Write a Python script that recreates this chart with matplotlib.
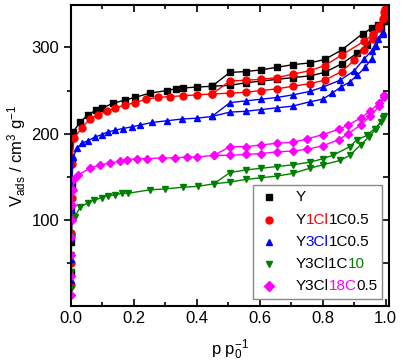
import matplotlib
matplotlib.use("Agg")
import matplotlib.pyplot as plt
from matplotlib.ticker import FixedLocator, MultipleLocator
from matplotlib.offsetbox import AnchoredOffsetbox, TextArea, HPacker, VPacker, DrawingArea
from matplotlib.lines import Line2D

plt.rcParams['font.family'] = ['Liberation Sans', 'DejaVu Sans']
plt.rcParams['mathtext.fontset'] = 'custom'
plt.rcParams['mathtext.rm'] = 'Liberation Sans'
plt.rcParams['mathtext.it'] = 'Liberation Sans:italic'

# Y
y_ads_p = [0.0006, 0.001, 0.0015, 0.002, 0.003, 0.006, 0.029, 0.054, 0.079, 0.10, 0.133, 0.171,
           0.203, 0.25, 0.305, 0.333, 0.356, 0.40, 0.448, 0.505, 0.555, 0.605, 0.655, 0.705,
           0.759, 0.806, 0.86, 0.908, 0.94, 0.96, 0.985, 0.998]
y_ads_v = [40, 75, 110, 140, 170, 202, 213, 222, 227, 230, 235, 239,
           242, 247, 250, 252, 253, 254, 255, 256, 259, 261, 263, 265,
           267, 271, 281, 293, 303, 312, 322, 330]
y_des_p = [0.998, 0.99, 0.975, 0.955, 0.927, 0.86, 0.806, 0.759, 0.705, 0.655, 0.605, 0.555, 0.505, 0.448]
y_des_v = [333, 330, 326, 322, 316, 297, 286, 282, 280, 277, 274, 272, 271, 255]

# Y1Cl1C0.5
r_ads_p = [0.0006, 0.001, 0.0015, 0.002, 0.003, 0.01, 0.035, 0.06, 0.086, 0.114, 0.14, 0.171,
           0.203, 0.24, 0.276, 0.314, 0.356, 0.40, 0.448, 0.505, 0.555, 0.605, 0.655, 0.705,
           0.759, 0.806, 0.86, 0.90, 0.93, 0.96, 0.98, 0.995]
r_ads_v = [25, 50, 85, 125, 165, 195, 207, 217, 222, 226, 230, 233,
           236, 240, 242, 243, 244, 245, 246, 247, 248, 250, 252, 255,
           258, 262, 272, 285, 297, 310, 322, 335]
r_des_p = [0.998, 0.995, 0.99, 0.98, 0.96, 0.93, 0.86, 0.806, 0.759, 0.705, 0.655, 0.605, 0.555, 0.505, 0.448]
r_des_v = [345, 341, 333, 325, 315, 307, 291, 279, 273, 269, 265, 263, 262, 261, 246]

# Y3Cl1C0.5
b_ads_p = [0.0006, 0.001, 0.0015, 0.002, 0.003, 0.007, 0.019, 0.035, 0.054, 0.076, 0.098, 0.117,
           0.14, 0.165, 0.194, 0.219, 0.257, 0.305, 0.352, 0.40, 0.448, 0.505, 0.555, 0.605,
           0.655, 0.705, 0.759, 0.80, 0.83, 0.857, 0.886, 0.91, 0.935, 0.955, 0.97, 0.99]
b_ads_v = [30, 55, 80, 110, 145, 173, 183, 189, 192, 196, 199, 202,
           204, 206, 208, 210, 213, 215, 217, 218, 220, 225, 226, 228,
           230, 232, 237, 240, 247, 254, 260, 268, 277, 287, 302, 316]
b_des_p = [0.99, 0.975, 0.955, 0.93, 0.90, 0.855, 0.80, 0.759, 0.705, 0.655, 0.605, 0.555, 0.505, 0.448]
b_des_v = [318, 310, 296, 286, 273, 262, 254, 249, 245, 242, 240, 238, 236, 220]

# Y3Cl1C10
g_ads_p = [0.0006, 0.001, 0.0015, 0.002, 0.004, 0.013, 0.029, 0.054, 0.073, 0.098, 0.117, 0.14,
           0.162, 0.181, 0.251, 0.298, 0.356, 0.403, 0.454, 0.505, 0.555, 0.605, 0.655, 0.705,
           0.759, 0.80, 0.855, 0.886, 0.92, 0.946, 0.97, 0.99]
g_ads_v = [20, 40, 60, 80, 100, 104, 115, 120, 123, 126, 128, 129,
           131, 131, 135, 136, 138, 139, 142, 144, 147, 149, 151, 154,
           160, 164, 169, 175, 187, 196, 206, 218]
g_des_p = [0.995, 0.985, 0.965, 0.94, 0.908, 0.886, 0.832, 0.80, 0.759, 0.705, 0.655, 0.605, 0.555, 0.505, 0.454]
g_des_v = [221, 213, 206, 198, 193, 185, 175, 171, 167, 164, 162, 160, 158, 155, 142]

# Y3Cl18C0.5
m_ads_p = [0.0004, 0.0006, 0.001, 0.0015, 0.002, 0.003, 0.005, 0.01, 0.022, 0.06, 0.092, 0.124,
           0.156, 0.178, 0.21, 0.241, 0.29, 0.33, 0.368, 0.40, 0.454, 0.505, 0.555, 0.605,
           0.655, 0.705, 0.75, 0.80, 0.85, 0.88, 0.92, 0.95, 0.98, 0.995]
m_ads_v = [13, 35, 60, 80, 100, 117, 135, 148, 152, 160, 164, 166,
           168, 170, 171, 171, 172, 172, 173, 173, 175, 175, 176, 177,
           179, 180, 182, 186, 193, 200, 210, 220, 232, 242]
m_des_p = [0.995, 0.98, 0.95, 0.92, 0.88, 0.85, 0.80, 0.75, 0.705, 0.655, 0.605, 0.555, 0.505, 0.454]
m_des_v = [245, 236, 226, 218, 210, 205, 199, 194, 190, 189, 187, 185, 185, 175]

series = [
    (y_ads_p, y_ads_v, y_des_p, y_des_v, 's', 'black', [('Y', 'black')]),
    (r_ads_p, r_ads_v, r_des_p, r_des_v, 'o', 'red', [('Y', 'black'), ('1Cl', 'red'), ('1C0.5', 'black')]),
    (b_ads_p, b_ads_v, b_des_p, b_des_v, '^', 'blue', [('Y', 'black'), ('3Cl', 'blue'), ('1C0.5', 'black')]),
    (g_ads_p, g_ads_v, g_des_p, g_des_v, 'v', 'green', [('Y3Cl1C', 'black'), ('10', 'green')]),
    (m_ads_p, m_ads_v, m_des_p, m_des_v, 'D', 'magenta', [('Y3Cl', 'black'), ('18C', 'magenta'), ('0.5', 'black')]),
]

fig = plt.figure(figsize=(4.03, 3.63), dpi=100)
ax = fig.add_axes([0.176, 0.156, 0.789, 0.830])

for ap, av, dp, dv, mk, col, _ in series:
    ms = 4.5 if mk == 'D' else 5
    ax.plot(ap + dp, av + dv, marker=mk, color=col, markersize=ms, linewidth=1)

ax.set_xlim(0, 1.01)
ax.set_ylim(0, 349)
ax.xaxis.set_major_locator(MultipleLocator(0.2))
ax.xaxis.set_minor_locator(MultipleLocator(0.1))
ax.yaxis.set_major_locator(FixedLocator([100, 200, 300]))
ax.yaxis.set_minor_locator(FixedLocator([50, 150, 250]))
ax.xaxis.set_major_formatter(plt.FuncFormatter(lambda v, _: f"{v:.1f}"))

for s in ax.spines.values():
    s.set_linewidth(1.5)
ax.tick_params(axis='both', which='both', labelsize=12, width=1.2)
ax.tick_params(axis='x', which='both', direction='in', top=True)
ax.tick_params(axis='x', which='major', length=5)
ax.tick_params(axis='x', which='minor', length=3)
ax.tick_params(axis='y', which='major', direction='out', length=5)
ax.tick_params(axis='y', which='minor', direction='out', length=3)

# right-side ticks pointing in, every 50
for yv in [50, 100, 150, 200, 250, 300]:
    ax.plot([1.0, 1.0], [yv, yv], transform=ax.get_yaxis_transform(), alpha=0)
ax2 = ax.twinx()
ax2.set_ylim(ax.get_ylim())
ax2.yaxis.set_major_locator(FixedLocator([50, 100, 150, 200, 250, 300]))
ax2.tick_params(axis='y', direction='in', length=4, width=1.2, labelright=False)
for s in ax2.spines.values():
    s.set_visible(False)

ax.set_xlabel('p p$_0^{-1}$', fontsize=12, labelpad=8)
ax.set_ylabel('V$_{\\rm ads}$ / cm$^3$ g$^{-1}$', fontsize=12, labelpad=2)

rows = []
for _, _, _, _, mk, col, segs in series:
    da = DrawingArea(28, 12, 0, 0)
    da.add_artist(Line2D([9], [6], marker=mk, color=col, markersize=5, linestyle='none'))
    parts = [TextArea(t, textprops=dict(color=c, fontsize=11)) for t, c in segs]
    rows.append(HPacker(children=[da] + parts, sep=0, pad=0, align='center'))
box = VPacker(children=rows, sep=4, pad=0, align='left')
leg = AnchoredOffsetbox(loc='lower right', child=box, pad=0.3, frameon=True, borderpad=0,
                        bbox_to_anchor=(0.978, 0.025), bbox_transform=ax.transAxes)
leg.patch.set_edgecolor('#888888')
leg.patch.set_linewidth(1)
ax2.add_artist(leg)

fig.savefig('out.png', dpi=100)
